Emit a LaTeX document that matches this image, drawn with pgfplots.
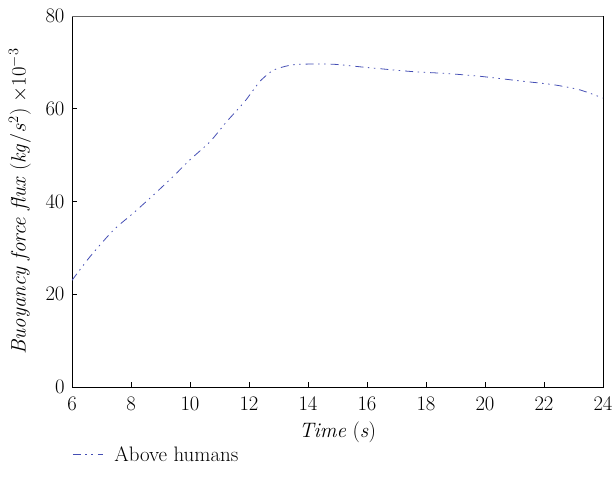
\documentclass[border=0pt]{standalone}
\usepackage{pgfplots}
\pgfplotsset{compat=1.18}
\definecolor{lineblue}{RGB}{68,78,180}
\begin{document}
\begin{tikzpicture}
\useasboundingbox (0,0) rectangle (615bp,486bp);
\begin{axis}[
  at={(72bp,99bp)}, anchor=south west,
  scale only axis,
  width=531bp, height=371bp,
  xmin=6, xmax=24, ymin=0, ymax=80,
  xtick={6,8,...,24}, ytick={0,20,...,80},
  xtick pos=bottom, ytick pos=left,
  tick align=inside,
  major tick length=5bp,
  tick style={black, line width=0.8pt},
  axis line style={black, line width=0.8pt},
  font=\fontsize{21}{25}\selectfont,
  xticklabel style={yshift=-7bp},
  yticklabel style={xshift=-4bp},
  xlabel={\textit{Time} (\textit{s})},
  ylabel={\textit{Buoyancy force flux} ($\mathit{kg}/s^{2}$) $\times10^{-3}$},
  xlabel style={at={(axis description cs:0.5,-0.122)}, anchor=center},
  ylabel style={at={(axis description cs:-0.098,0.5)}, anchor=center},
  legend style={at={(axis description cs:-0.005,-0.183)}, anchor=west, draw=none, fill=none,
    font=\fontsize{21}{25}\selectfont, legend cell align=left,
    /tikz/every odd column/.append style={column sep=9bp}},
  legend image code/.code={\draw[#1] (0bp,0bp) -- (30bp,0bp);},
]
\addplot[lineblue, line width=0.8pt, smooth, tension=0.4,
  dash pattern=on 8bp off 4.5bp on 1.5bp off 4.5bp on 1.5bp off 5bp] coordinates {
  (6.0,23.0) (6.61,28.1) (7.4,33.8) (8.08,37.5) (8.76,41.4) (9.43,45.4)
  (10.0,49.0) (10.68,52.9) (11.24,57.2) (11.86,61.6) (12.37,65.9)
  (12.82,68.3) (13.33,69.3) (13.73,69.6) (14.85,69.6) (15.99,68.9)
  (17.56,68.0) (18.7,67.6) (19.83,67.0) (21.19,66.0) (22.3,65.2)
  (23.2,64.1) (24.0,62.3)
};
\addlegendentry{Above humans}
\end{axis}
\draw[gray!80!black, line width=0.8pt] (72bp,470bp) -- (603bp,470bp);
\end{tikzpicture}
\end{document}
